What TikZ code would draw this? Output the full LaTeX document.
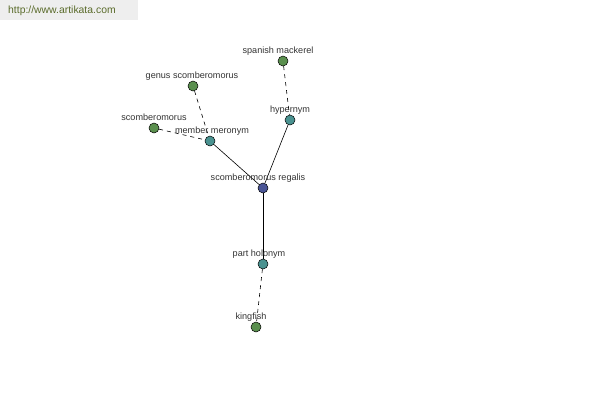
\documentclass[tikz,border=0pt]{standalone}
\usepackage{fontspec}
\setmainfont{Liberation Sans}
\begin{document}
\begin{tikzpicture}[x=1pt,y=-1pt,
  every node/.style={inner sep=0pt},
  vert/.style={circle,draw=black,line width=0.5pt,minimum size=10pt},
  leaf/.style={vert,fill=leafc},
  rel/.style={vert,fill=relc},
  hub/.style={vert,fill=hubc},
  lbl/.style={font=\fontsize{9.1}{10}\selectfont,text=labc,anchor=base},
  solidedge/.style={draw=black,line width=0.6pt},
  dashedge/.style={draw=black,line width=0.6pt,dashed,dash pattern=on 4pt off 4pt}]
\definecolor{leafc}{HTML}{5A8F4E}
\definecolor{relc}{HTML}{4A9290}
\definecolor{hubc}{HTML}{4A5596}
\definecolor{labc}{HTML}{333333}
\definecolor{hdrbg}{HTML}{EEEEEE}
\definecolor{hdrtx}{HTML}{5A6B2A}
\useasboundingbox (0,0) rectangle (600,400);
\fill[hdrbg] (0,0) rectangle (138,20);
\node[font=\fontsize{10.4}{12}\selectfont,text=hdrtx,anchor=west] (hdr) at (8,11) {http://www.artikata.com};
% nodes
\node[hub] (reg) at (263,188) {};
\node[rel] (mer) at (210,141) {};
\node[rel] (hyp) at (290,120) {};
\node[rel] (hol) at (263,264) {};
\node[leaf] (gen) at (193,86) {};
\node[leaf] (sco) at (154,128) {};
\node[leaf] (spa) at (283,61) {};
\node[leaf] (kin) at (256,327) {};
% edges
\path[solidedge] (mer) -- (reg);
\path[solidedge] (hyp) -- (reg);
\path[solidedge] (reg) -- (hol);
\path[dashedge] (gen) -- (mer);
\path[dashedge] (sco) -- (mer);
\path[dashedge] (spa) -- (hyp);
\path[dashedge] (hol) -- (kin);
% labels
\node[lbl] (lreg) at (258,180) {scomberomorus regalis};
\node[lbl] (lmer) at (212,133) {member meronym};
\node[lbl] (lhyp) at (290,112) {hypernym};
\node[lbl] (lhol) at (259,256) {part holonym};
\node[lbl] (lgen) at (192,78) {genus scomberomorus};
\node[lbl] (lsco) at (154,120) {scomberomorus};
\node[lbl] (lspa) at (278,53) {spanish mackerel};
\node[lbl] (lkin) at (251,319) {kingfish};
\end{tikzpicture}
\end{document}
